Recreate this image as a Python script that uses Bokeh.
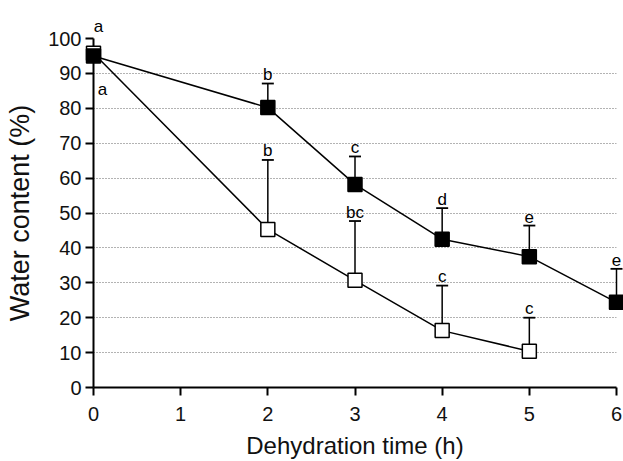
from bokeh.plotting import figure
from bokeh.models import ColumnDataSource, Range1d, FixedTicker
from bokeh.core.properties import value
from bokeh.embed import file_html
from bokeh.resources import INLINE

# ---- data ----
hours = [0, 2, 3, 4, 5, 6]
filled_vals = [95.0, 80.2, 58.2, 42.5, 37.5, 24.4]
filled_upper = [97.5, 87.1, 66.2, 51.4, 46.4, 34.0]
filled_letters = ["a", "b", "c", "d", "e", "e"]

open_hours = [0, 2, 3, 4, 5]
open_vals = [95.8, 45.3, 30.7, 16.3, 10.4]
open_upper = [97.5, 65.2, 47.7, 29.2, 20.0]
open_letters = ["a", "b", "bc", "c", "c"]

x_ticks = [0, 1, 2, 3, 4, 5, 6]
y_ticks = [0, 10, 20, 30, 40, 50, 60, 70, 80, 90, 100]

FONT = "Liberation Sans"

p = figure(width=623, height=461, output_backend="svg", toolbar_location=None,
           x_range=Range1d(0, 6), y_range=Range1d(0, 100),
           min_border_left=93, min_border_right=7, min_border_top=38, min_border_bottom=74)
p.outline_line_color = None
p.background_fill_color = "white"
p.border_fill_color = "white"

# grid
p.xgrid.visible = False
p.ygrid.ticker = FixedTicker(ticks=y_ticks[1:])
p.ygrid.grid_line_color = "#666666"
p.ygrid.grid_line_width = 1
p.ygrid.grid_line_dash = "1 2"

# axes
for ax in (p.xaxis[0], p.yaxis[0]):
    ax.axis_line_width = 2
    ax.axis_line_color = "black"
    ax.major_tick_line_width = 2
    ax.major_tick_line_color = "black"
    ax.major_tick_out = 8
    ax.major_tick_in = 0
    ax.minor_tick_line_color = None
    ax.major_label_text_font = FONT
    ax.major_label_text_font_size = "20px"
    ax.major_label_text_color = "#111111"
    ax.axis_label_text_font = FONT
    ax.axis_label_text_font_style = "normal"
    ax.axis_label_text_color = "#111111"

p.xaxis[0].ticker = FixedTicker(ticks=x_ticks)
p.yaxis[0].ticker = FixedTicker(ticks=y_ticks)
p.xaxis[0].axis_label = "Dehydration time (h)"
p.yaxis[0].axis_label = "Water content (%)"
p.xaxis[0].axis_label_text_font_size = "24px"
p.yaxis[0].axis_label_text_font_size = "27px"
p.xaxis[0].major_label_standoff = 11
p.yaxis[0].major_label_standoff = 4
p.xaxis[0].axis_label_standoff = 8
p.yaxis[0].axis_label_standoff = 10

fsrc = ColumnDataSource(dict(x=hours, y=filled_vals, up=filled_upper, t=filled_letters))
osrc = ColumnDataSource(dict(x=open_hours, y=open_vals, up=open_upper, t=open_letters))

rs = []
# lines
rs.append(p.line("x", "y", source=osrc, line_color="black", line_width=1.5))
rs.append(p.line("x", "y", source=fsrc, line_color="black", line_width=1.5))
# error bars (upward only)
for src in (osrc, fsrc):
    rs.append(p.segment(x0="x", y0="y", x1="x", y1="up", source=src, line_color="black", line_width=1.5))
    rs.append(p.scatter("x", "up", source=src, marker="dash", size=12, line_color="black", line_width=1.8))
# markers
rs.append(p.scatter("x", "y", source=osrc, marker="square", size=14,
                    fill_color="white", line_color="black", line_width=1.5))
rs.append(p.scatter("x", "y", source=fsrc, marker="square", size=14,
                    fill_color="black", line_color="black", line_width=1.5))

# significance letters (hour 0 handled separately)
fl = ColumnDataSource(dict(x=hours[1:], y=filled_upper[1:], t=filled_letters[1:]))
ol = ColumnDataSource(dict(x=open_hours[1:], y=open_upper[1:], t=open_letters[1:]))
for src in (fl, ol):
    rs.append(p.text("x", "y", text="t", source=src, y_offset=-9,
                     text_align="center", text_baseline="alphabetic",
                     text_font=value(FONT), text_font_size="17px", text_color="black"))

f0 = ColumnDataSource(dict(x=hours[:1], y=filled_upper[:1], t=filled_letters[:1]))
o0 = ColumnDataSource(dict(x=open_hours[:1], y=open_vals[:1], t=open_letters[:1]))
rs.append(p.text("x", "y", text="t", source=f0, x_offset=5, y_offset=-21,
                 text_align="center", text_baseline="alphabetic",
                 text_font=value(FONT), text_font_size="17px", text_color="black"))
rs.append(p.text("x", "y", text="t", source=o0, x_offset=9, y_offset=36,
                 text_align="center", text_baseline="alphabetic",
                 text_font=value(FONT), text_font_size="17px", text_color="black"))

for r in rs:
    r.level = "overlay"

open("out.html", "w").write(file_html(p, INLINE))
